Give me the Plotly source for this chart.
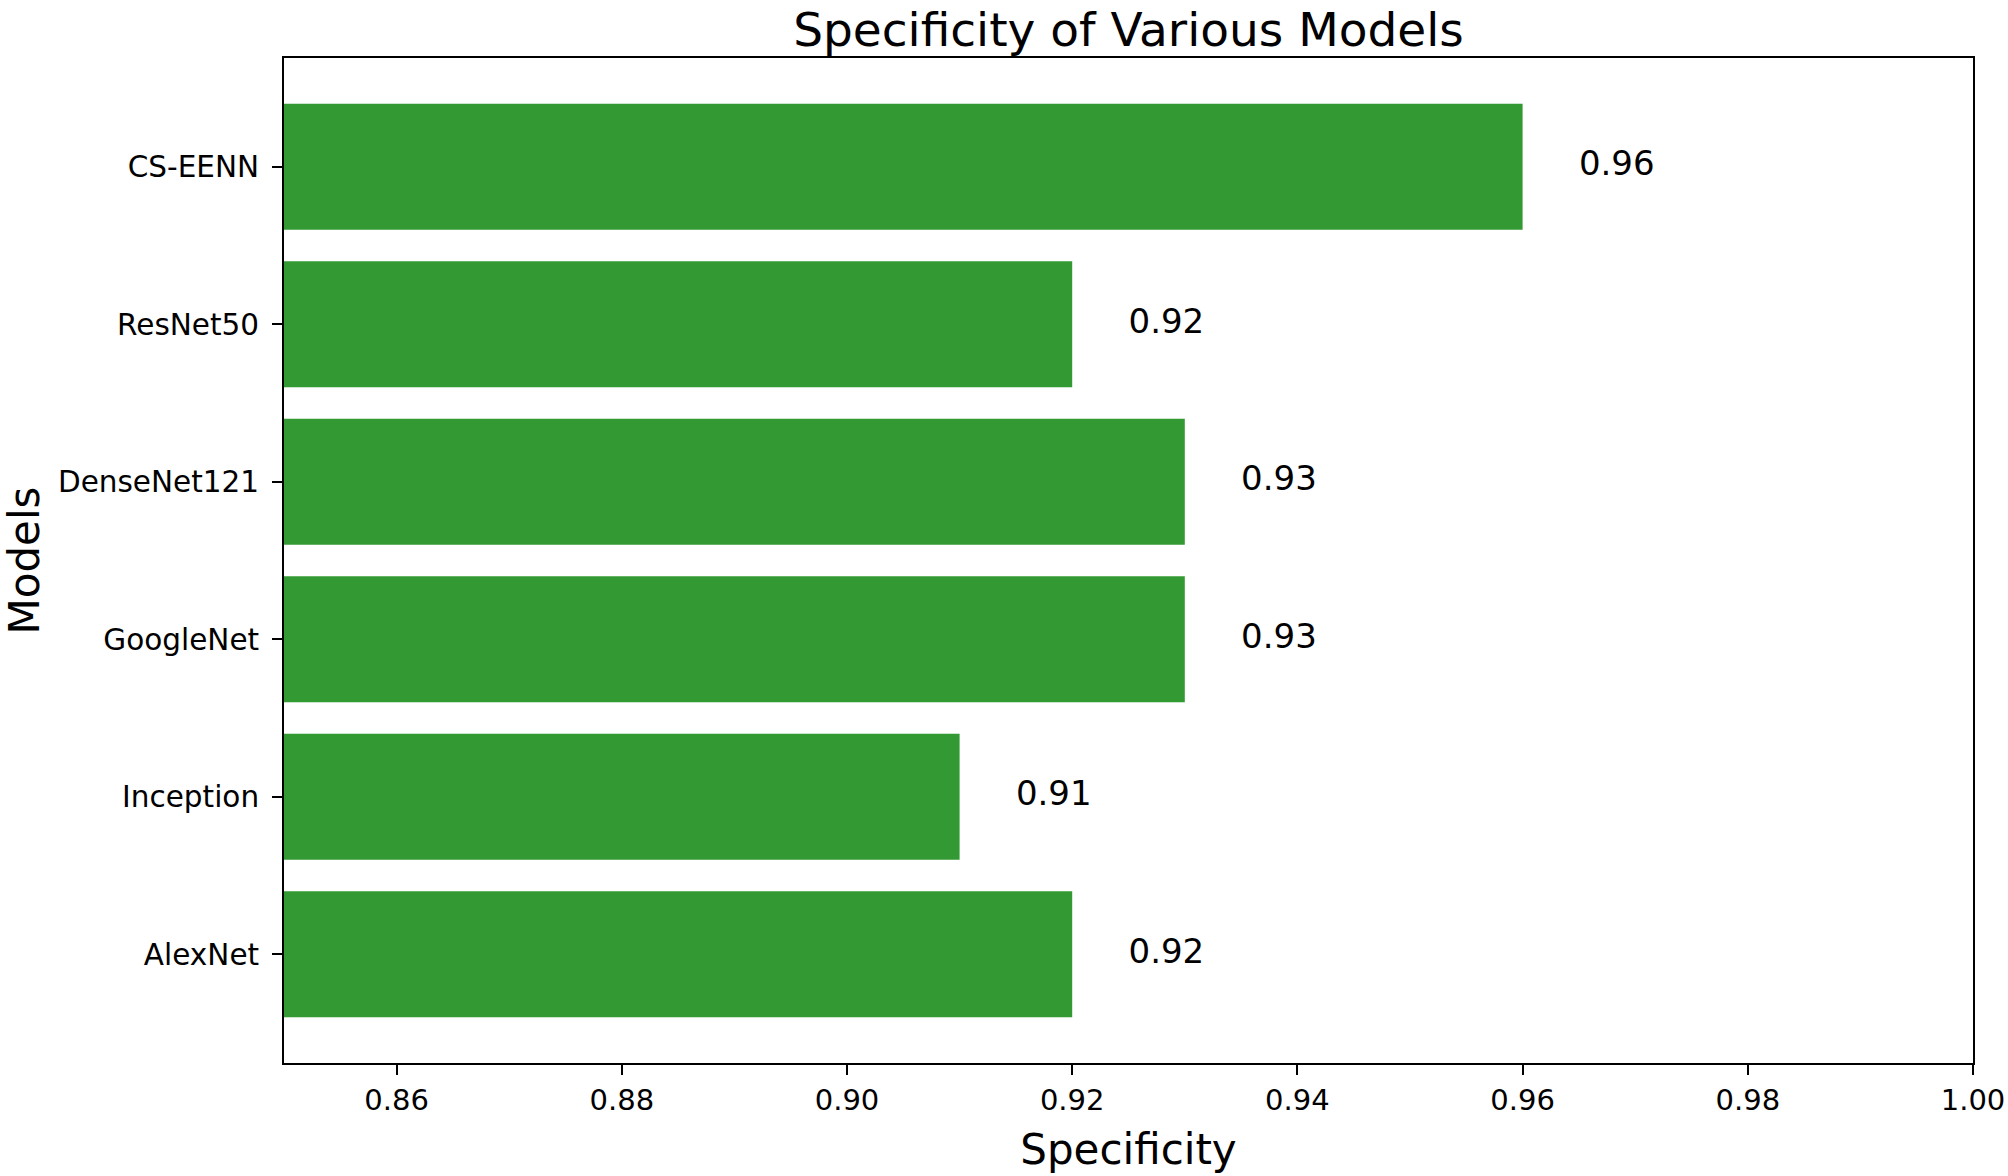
import plotly.graph_objects as go

models = ["AlexNet", "Inception", "GoogleNet", "DenseNet121", "ResNet50", "CS-EENN"]
specificity = [0.92, 0.91, 0.93, 0.93, 0.92, 0.96]
x_ticks = [0.86, 0.88, 0.90, 0.92, 0.94, 0.96, 0.98, 1.00]

FONT = "DejaVu Sans"
W, H = 2008, 1176
L, R, T, B = 284, 35, 58, 113

fig = go.Figure()
fig.add_trace(go.Bar(
    y=list(range(len(models))), x=specificity, orientation="h",
    width=0.8, marker=dict(color="#339933", line=dict(width=0)),
    hoverinfo="x+y", showlegend=False,
))
fig.add_trace(go.Scatter(
    y=list(range(len(models))), x=[v + 0.005 for v in specificity],
    mode="text", text=[f"{v:.2f}" for v in specificity],
    textposition="middle right",
    textfont=dict(family=FONT, size=34, color="black"),
    showlegend=False, hoverinfo="skip",
))

fig.update_layout(
    width=W, height=H,
    margin=dict(l=L, r=R, t=T, b=B),
    paper_bgcolor="white", plot_bgcolor="white",
    font=dict(family=FONT, color="black"),
    title=dict(text="Specificity of Various Models", x=(L + (W - L - R) / 2) / W,
               xanchor="center", y=1 - 30 / H, yanchor="middle",
               font=dict(family=FONT, size=47, color="black")),
    xaxis=dict(
        range=[0.85, 1.0], tickvals=x_ticks, ticktext=[f"{v:.2f}" for v in x_ticks],
        ticks="outside", ticklen=10, tickwidth=2, tickcolor="black",
        showline=True, linecolor="black", linewidth=2, mirror=True,
        showgrid=False, zeroline=False, ticklabeloverflow="allow",
        tickfont=dict(family=FONT, size=29, color="black"),
        title=dict(text="Specificity", font=dict(family=FONT, size=42, color="black"), standoff=19),
        automargin=False,
    ),
    yaxis=dict(
        range=[-0.69, 5.69], tickvals=list(range(len(models))), ticktext=models,
        ticks="outside", ticklen=10, tickwidth=2, tickcolor="black",
        showline=True, linecolor="black", linewidth=2, mirror=True,
        showgrid=False, zeroline=False, ticklabelstandoff=7,
        tickfont=dict(family=FONT, size=29.5, color="black"),
        title=dict(text="Models", font=dict(family=FONT, size=42, color="black"), standoff=24),
        automargin=False,
    ),
)

# remove the default 8px page margin so the figure fills the window exactly
fig.write_html("out.html", config={"displayModeBar": False},
               post_script="document.body.style.margin='0';")
